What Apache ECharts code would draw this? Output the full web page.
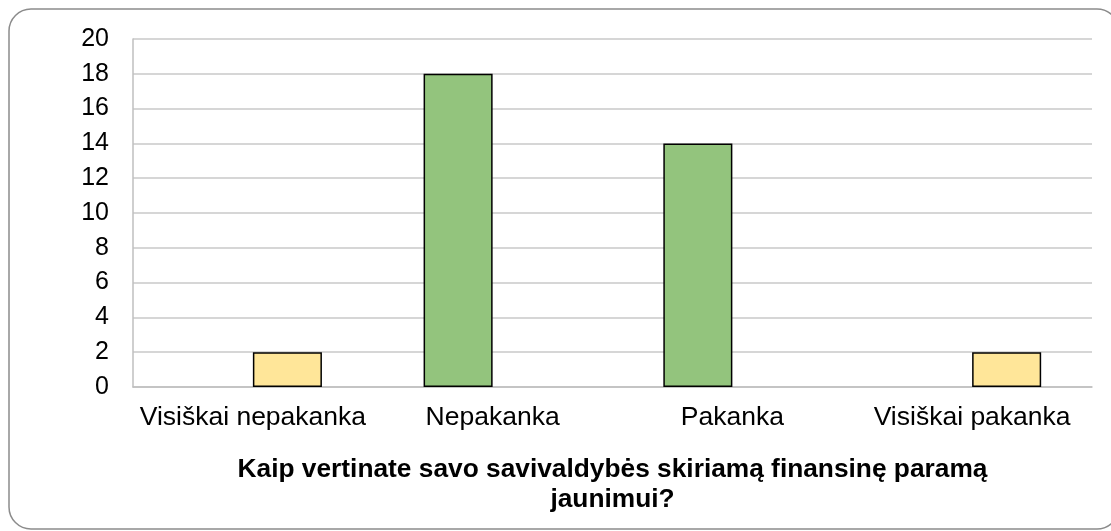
<!DOCTYPE html>
<html>
<head>
<meta charset="utf-8">
<script src="https://cdn.jsdelivr.net/npm/echarts@6/dist/echarts.min.js"></script>
<style>
  html, body { margin: 0; padding: 0; background: #fff; }
  #chart { width: 1111px; height: 531px; }
</style>
</head>
<body>
<div id="chart"></div>
<script>
const categories = ["Visiškai nepakanka", "Nepakanka", "Pakanka", "Visiškai pakanka"];
const greenValues = [0, 18, 14, 0];
const yellowValues = [2, 0, 0, 2];
const axisTitle = "Kaip vertinate savo savivaldybės skiriamą finansinę paramą\njaunimui?";

const myChart = echarts.init(document.getElementById("chart"));

// zero values are not drawn (no flat bar on the axis)
const toBars = (arr) => arr.map((v) => (v === 0 ? null : v));

const option = {
  backgroundColor: "#fff",
  animation: false,
  textStyle: { fontFamily: "Liberation Sans, Arial, sans-serif" },
  graphic: [
    {
      type: "rect",
      shape: { x: 9, y: 9, width: 1110, height: 520, r: 22 },
      style: { fill: "none", stroke: "#8c8c8c", lineWidth: 1.5 },
      z: 0,
    },
  ],
  grid: {
    left: 133,
    right: 19,
    top: 39,
    bottom: 144,
  },
  xAxis: {
    type: "category",
    data: categories,
    axisTick: { show: false },
    axisLine: { lineStyle: { color: "#bfbfbf", width: 1.5 } },
    axisLabel: {
      color: "#000",
      fontSize: 26.5,
      margin: 17,
      interval: 0,
    },
    name: axisTitle,
    nameLocation: "middle",
    nameGap: 68,
    nameTextStyle: {
      color: "#000",
      fontSize: 26.3,
      fontWeight: "bold",
      lineHeight: 30,
      verticalAlign: "top",
    },
  },
  yAxis: {
    type: "value",
    min: 0,
    max: 20,
    interval: 2,
    axisTick: { show: false },
    axisLine: { show: true, lineStyle: { color: "#bfbfbf", width: 1.5 } },
    axisLabel: { color: "#000", fontSize: 25, margin: 24 },
    splitLine: { lineStyle: { color: "#c8c8c8", width: 1.5 } },
  },
  series: [
    {
      name: "green",
      type: "bar",
      data: toBars(greenValues),
      barGap: "0%",
      barCategoryGap: "42.4%",
      itemStyle: { color: "#93c47d", borderColor: "#000", borderWidth: 1.5 },
    },
    {
      name: "yellow",
      type: "bar",
      data: toBars(yellowValues),
      itemStyle: { color: "#ffe699", borderColor: "#000", borderWidth: 1.5 },
    },
  ],
};
myChart.setOption(option);
</script>
</body>
</html>
